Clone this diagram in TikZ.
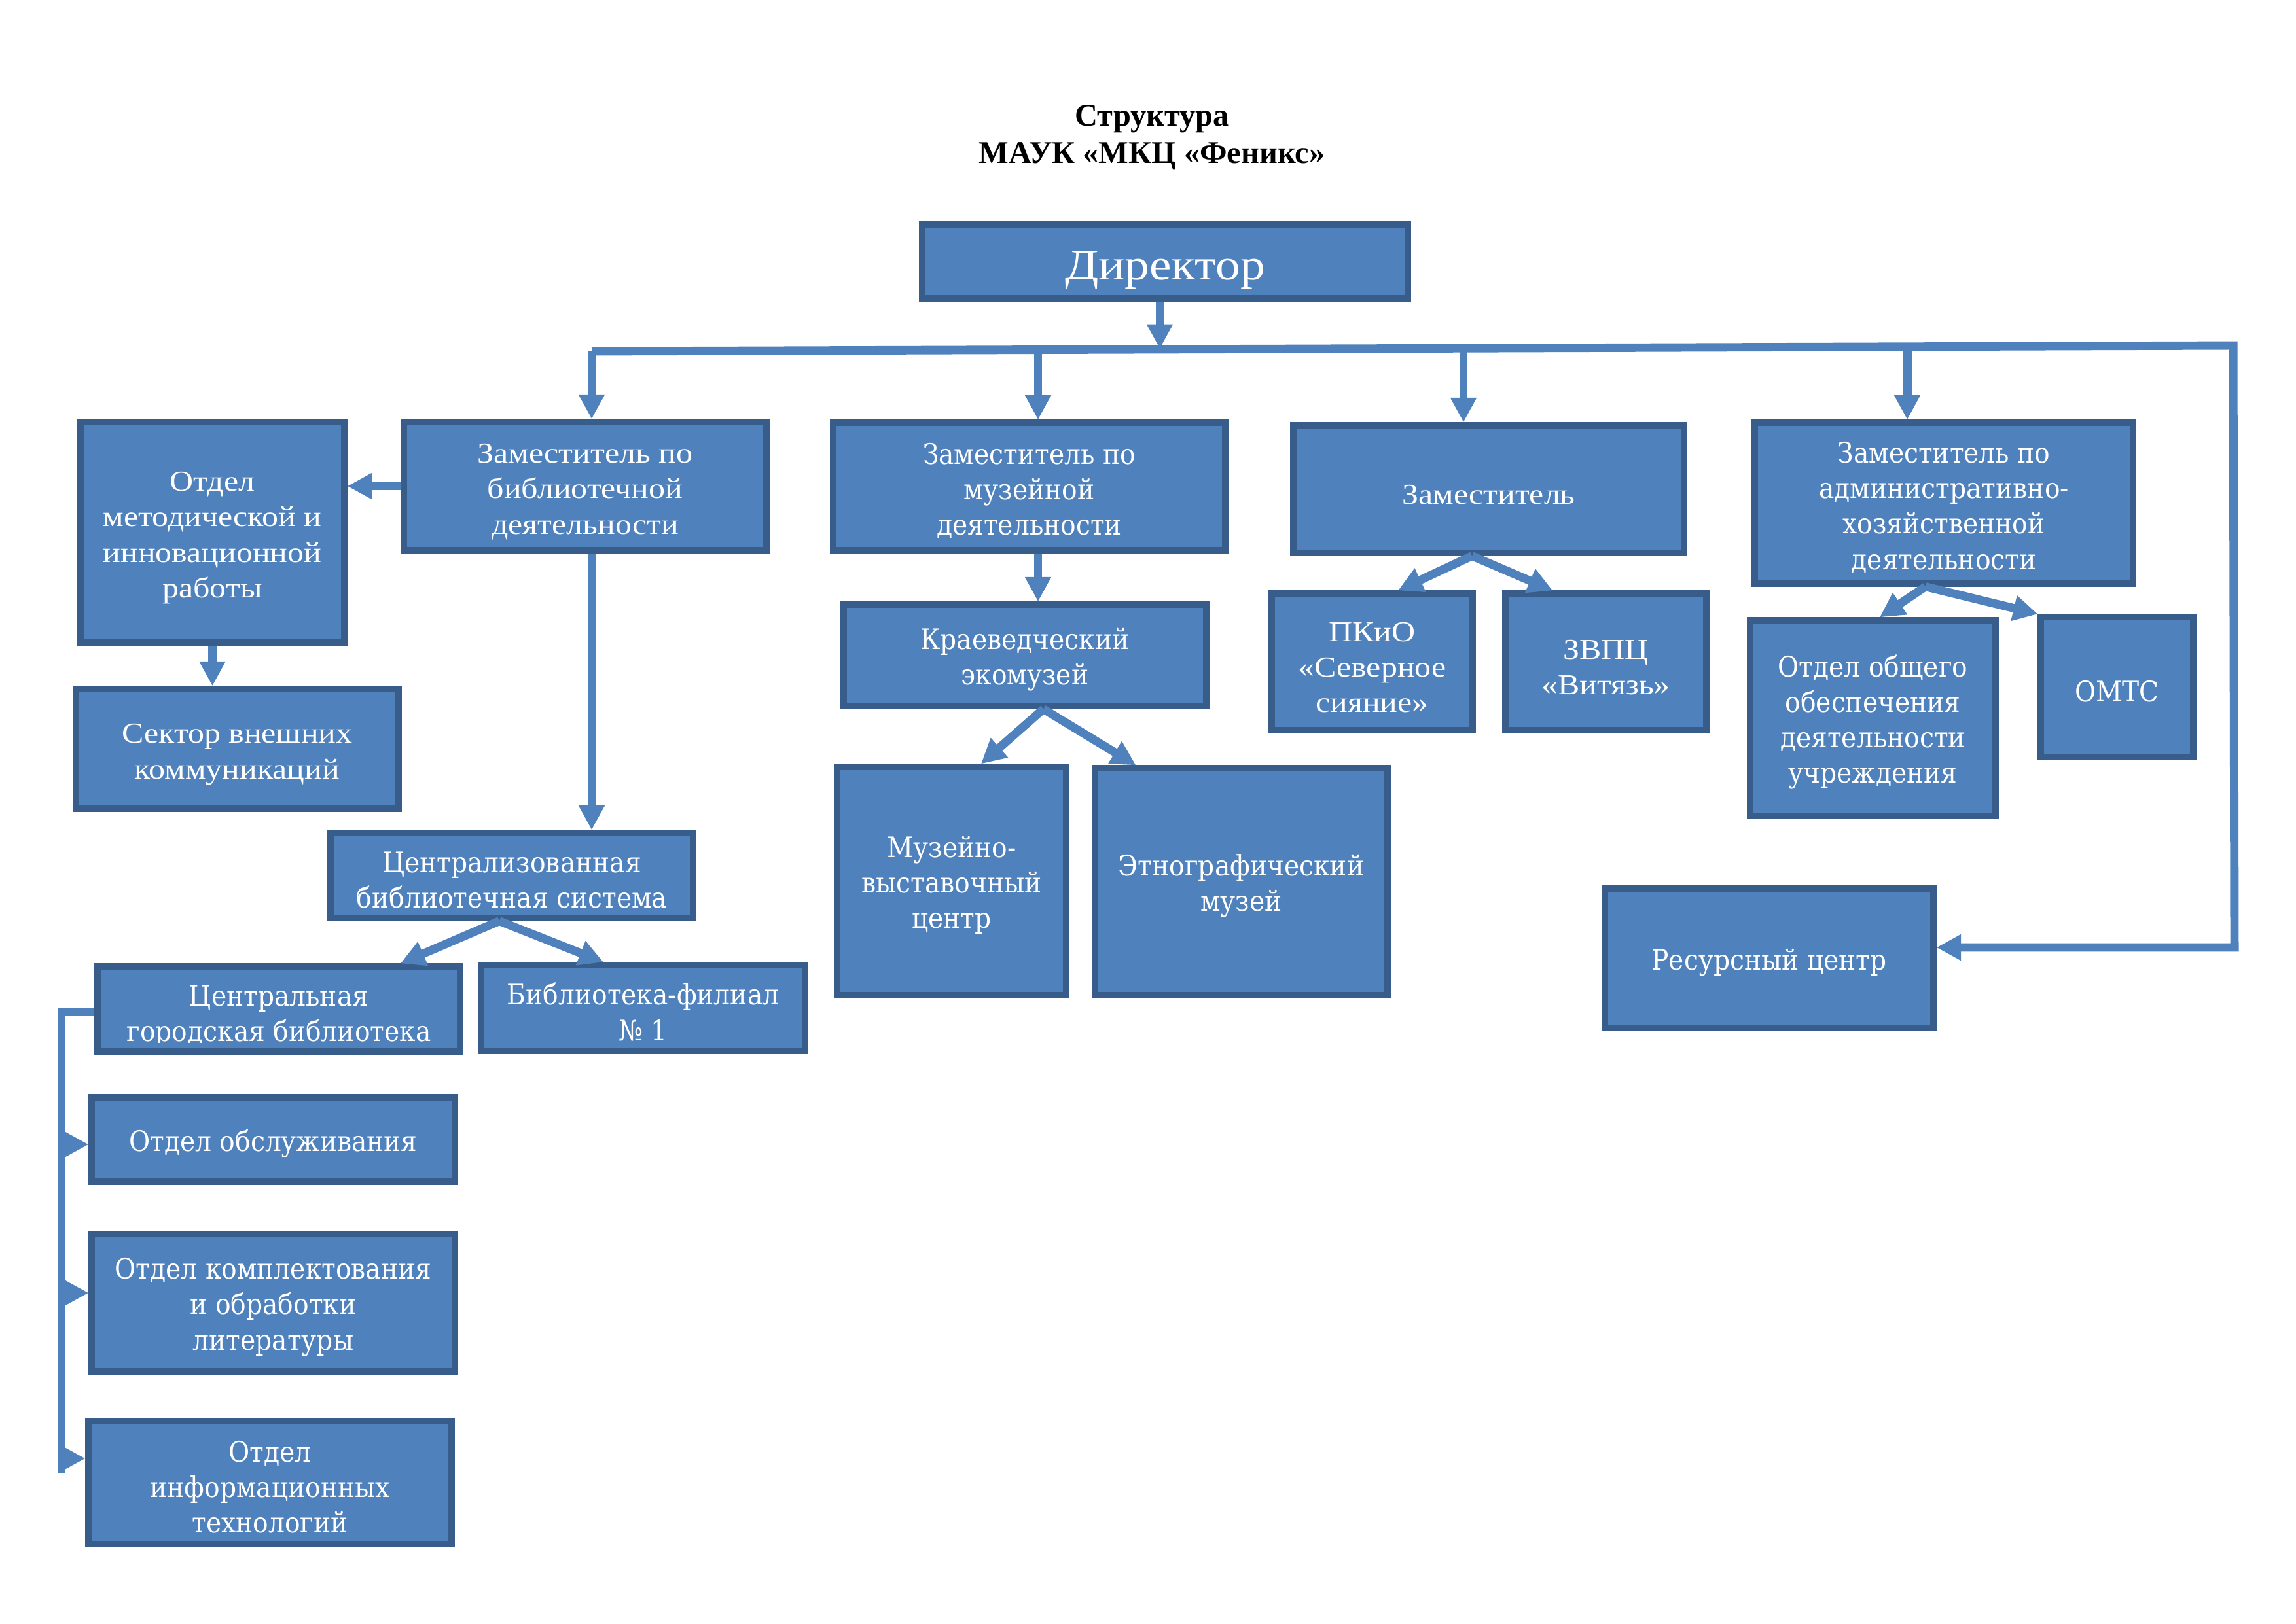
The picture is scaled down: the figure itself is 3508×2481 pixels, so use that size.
\documentclass[tikz,border=0pt]{standalone}
\usepackage{fontspec}
\setmainfont{Liberation Serif}
\newfontfamily\condfont[FakeStretch=1.13]{Liberation Serif}
\newfontfamily\widefont[FakeStretch=0.905]{DejaVu Serif}
\usetikzlibrary{arrows.meta,calc}
\definecolor{boxfill}{HTML}{4F81BD}
\definecolor{boxline}{HTML}{385D8A}
\definecolor{conncol}{HTML}{4F81BD}
% #1 name, #2 x1, #3 y1, #4 x2, #5 y2, #6 style, #7 text
\newcommand\bx[7]{%
  \pgfmathsetmacro\bxw{(#4-#2)*0.24}%
  \pgfmathsetmacro\bxh{(#5-#3)*0.24}%
  \node[box,#6,minimum width=\bxw pt,minimum height=\bxh pt] (#1) at ({(#2+#4)/2},{(#3+#5)/2}) {\rule{0pt}{1.05em}#7};}
\begin{document}
\begin{tikzpicture}[x=0.24pt,y=-0.24pt,
  box/.style={draw=boxline, fill=boxfill, line width=2.2pt, inner sep=0pt, text=white, align=center},
  cond/.style={font=\condfont\fontsize{10.6pt}{13pt}\selectfont},
  wide/.style={font=\widefont\fontsize{10.4pt}{13pt}\selectfont},
  conn/.style={draw=conncol, line width=3.1pt},
  arr/.style={conn, -{Triangle[width=9pt,length=9pt]}}]
\useasboundingbox (0,0) rectangle (3508,2481);

% title
\node[align=center, font=\bfseries\fontsize{11.6pt}{13.7pt}\selectfont] (title) at (1760,210) {Структура\\МАУК «МКЦ «Феникс»};

% boxes
\bx{dir}{1409}{343}{2151}{456}{font=\condfont\fontsize{16pt}{19pt}\selectfont}{Директор}
\bx{lib}{617}{645}{1171}{841}{cond}{Заместитель по\\библиотечной\\деятельности}
\bx{met}{123}{645}{526}{982}{cond}{Отдел\\методической и\\инновационной\\работы}
\bx{sek}{116}{1053}{609}{1236}{cond}{Сектор внешних\\коммуникаций}
\bx{mus}{1273}{646}{1872}{841}{wide}{Заместитель по\\музейной\\деятельности}
\bx{kr}{1289}{924}{1843}{1079}{wide}{Краеведческий\\экомузей}
\bx{mvc}{1279}{1172}{1629}{1521}{wide}{Музейно-\\выставочный\\центр}
\bx{eth}{1673}{1174}{2120}{1521}{wide}{Этнографический\\музей}
\bx{zam}{1976}{650}{2573}{845}{cond}{Заместитель}
\bx{pk}{1943}{907}{2250}{1116}{cond}{ПКиО\\«Северное\\сияние»}
\bx{zv}{2300}{907}{2607}{1116}{cond}{ЗВПЦ\\«Витязь»}
\bx{adm}{2681}{646}{3259}{892}{wide}{Заместитель по\\административно-\\хозяйственной\\деятельности}
\bx{obs}{2674}{948}{3049}{1247}{wide}{Отдел общего\\обеспечения\\деятельности\\учреждения}
\bx{omts}{3118}{943}{3351}{1157}{wide}{ОМТС}
\bx{res}{2452}{1358}{2954}{1571}{wide}{Ресурсный центр}
\bx{cbs}{505}{1273}{1059}{1403}{wide}{Централизованная\\библиотечная система}
\bx{cgb}{149}{1477}{703}{1607}{wide}{}
\begin{scope}
\clip ([shift={(9,9)}]cgb.north west) rectangle (cgb.east |- 0,1593);
\node[wide, text=white, align=center] (cgbT) at ([yshift=-2.6pt]cgb.center) {Центральная\\городская библиотека};
\end{scope}
\bx{br}{735}{1475}{1230}{1606}{wide}{Библиотека-филиал\\№ 1}
\bx{obsl}{140}{1677}{695}{1806}{wide}{Отдел обслуживания}
\bx{kompl}{140}{1886}{695}{2096}{wide}{Отдел комплектования\\и обработки\\литературы}
\bx{info}{135}{2172}{690}{2360}{wide}{Отдел\\информационных\\технологий}

% bus coordinates
\coordinate (bD) at (1772,533);
\coordinate (bL) at (904,537);
\coordinate (bM) at (1586,535);
\coordinate (bZ) at (2236,531);
\coordinate (bA) at (2914,529);
\coordinate (bR) at (3412,528);
\coordinate (rR) at (3414,1448);

\draw[arr] (dir.south -| bD) -- (bD);
\draw[arr] (bL) -- (bR) -- (rR) -- (res.east |- rR);
\draw[arr] (bL) -- (lib.north -| bL);
\draw[arr] (bM) -- (mus.north -| bM);
\draw[arr] (bZ) -- (zam.north -| bZ);
\draw[arr] (bA) -- (adm.north -| bA);

% library branch
\draw[arr] (lib.west) -- (met.east |- lib.west);
\draw[arr] (met.south) -- (sek.north -| met.south);
\draw[arr] (lib.south -| bL) -- (cbs.north -| bL);
\coordinate (cbsS) at ($(cbs.south west)!.466!(cbs.south east)$);
\draw[arr] (cbsS) -- ($(cgb.north west)!.83!(cgb.north east)$);
\draw[arr] (cbsS) -- ($(br.north west)!.38!(br.north east)$);

% museum branch
\draw[arr] (mus.south -| bM) -- (kr.north -| bM);
\coordinate (kS) at ($(kr.south west)!.55!(kr.south east)$);
\draw[arr] (kS) -- ($(mvc.north west)!.625!(mvc.north east)$);
\draw[arr] (kS) -- ($(eth.north west)!.147!(eth.north east)$);

% deputy branch
\coordinate (zS) at ($(zam.south west)!.458!(zam.south east)$);
\draw[arr] (zS) -- ($(pk.north west)!.625!(pk.north east)$);
\draw[arr] (zS) -- ($(zv.north west)!.243!(zv.north east)$);

% admin branch
\coordinate (aS) at ($(adm.south west)!.452!(adm.south east)$);
\draw[arr] (aS) -- ($(obs.north west)!.527!(obs.north east)$);
\draw[arr] (aS) -- (omts.north west);

% central library bracket
\coordinate (bt) at (94,1547);
\coordinate (bb) at (94,2251);
\coordinate (a1) at (94,1749);
\coordinate (a2) at (94,1976);
\coordinate (a3) at (94,2229);
\draw[conn] (cgb.west |- bt) -- (bt) -- (bb);
\draw[arr] (a1) -- (obsl.west |- a1);
\draw[arr] (a2) -- (kompl.west |- a2);
\draw[arr] (a3) -- (info.west |- a3);
\end{tikzpicture}
\end{document}
